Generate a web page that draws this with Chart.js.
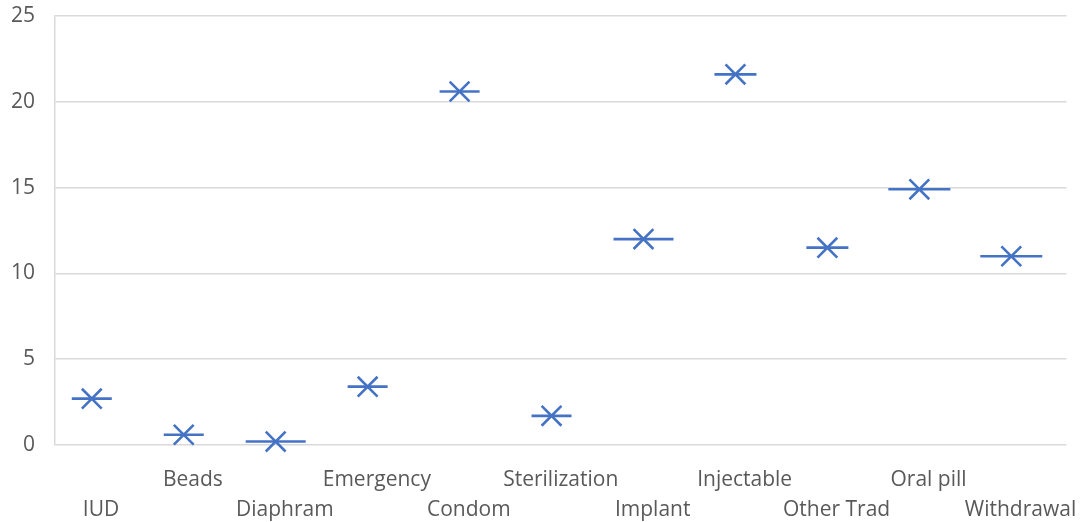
<!DOCTYPE html>
<html><head><meta charset="utf-8">
<script src="https://cdn.jsdelivr.net/npm/chart.js@4/dist/chart.umd.min.js"></script>
<style>html,body{margin:0;padding:0;background:#fff;} #wrap{width:1089px;height:522px;position:relative;}</style>
</head><body><div id="wrap"><canvas id="c"></canvas></div>
<script>
const categories = ['IUD','Beads','Diaphram','Emergency','Condom','Sterilization','Implant','Injectable','Other Trad','Oral pill','Withdrawal'];
const values = [2.7, 0.6, 0.2, 3.4, 20.6, 1.7, 12.0, 21.6, 11.5, 14.9, 11.0];
const yTicks = [0, 5, 10, 15, 20, 25];

// style: half-width of each horizontal dash marker (px)
const dashRadius = [20, 20, 30, 20, 20, 20, 30, 21, 21, 31, 31];

const markColor = '#4472C4';
const textColor = '#595959';
const gridColor = '#d9d9d9';
const family = "'Open Sans', 'Noto Sans', sans-serif";

const points = values.map((v, i) => ({ x: i, y: v }));

const chart = new Chart(document.getElementById('c'), {
  type: 'line',
  data: {
    labels: categories,
    datasets: [
      { data: points, xAxisID: 'xm', showLine: false, pointStyle: 'line', pointRadius: dashRadius, pointHoverRadius: dashRadius, clip: false,
        pointBorderColor: markColor, pointBackgroundColor: markColor, pointBorderWidth: 2.6, borderColor: markColor },
      { data: points, xAxisID: 'xm', showLine: false, pointStyle: 'crossRot', pointRadius: 14, pointHoverRadius: 14, clip: false,
        pointBorderColor: markColor, pointBackgroundColor: markColor, pointBorderWidth: 2.6, borderColor: markColor }
    ]
  },
  options: {
    responsive: true,
    maintainAspectRatio: false,
    animation: false,
    layout: { autoPadding: false, padding: { top: 16, right: 18, left: 0, bottom: 0 } },
    plugins: { legend: { display: false }, tooltip: { enabled: false } },
    events: [],
    scales: {
      x: {
        type: 'category',
        offset: true,
        grid: { display: false },
        border: { display: false },
        ticks: {
          autoSkip: false, maxRotation: 0, minRotation: 0, padding: 12,
          color: textColor, font: { family: family, size: 21, lineHeight: '30px' },
          callback: function (v, i) { const c = categories[i]; return i % 2 === 0 ? ['', c] : [c, '']; }
        },
        afterFit: s => { s.height = 77; }
      },
      xm: {
        type: 'linear',
        display: false,
        min: -0.4,
        max: categories.length - 0.4
      },
      y: {
        min: 0, max: 25,
        afterBuildTicks: s => { s.ticks = yTicks.map(v => ({ value: v })); },
        ticks: { padding: 0, color: textColor, font: { family: family, size: 21, lineHeight: 1 } },
        grid: { color: gridColor, lineWidth: 1.5, drawTicks: true, tickLength: 20, tickColor: 'rgba(0,0,0,0)' },
        border: { display: true, color: gridColor, width: 1.5 },
        afterFit: s => { s.width = 55; }
      }
    }
  }
});
</script>
</body></html>
